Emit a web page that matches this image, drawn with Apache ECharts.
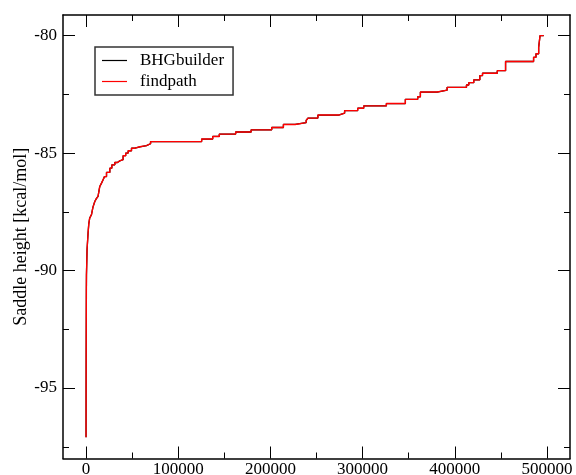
<!DOCTYPE html>
<html>
<head>
<meta charset="utf-8">
<script src="https://cdn.jsdelivr.net/npm/echarts@6/dist/echarts.min.js"></script>
<style>
  html, body { margin: 0; padding: 0; background: #fff; }
  #chart { width: 576px; height: 475px; }
</style>
</head>
<body>
<div id="chart"></div>
<script>
// Sorted saddle heights along the path index; step points (index, height).
const pathIndex = [
  0, 60, 150, 250, 350, 450, 1100, 2200, 3000, 4000, 5900, 7500, 9500, 11000,
  13000, 14900, 16500, 18500, 20000, 22200, 25800, 28000, 31200, 34000, 36600,
  40200, 43000, 45700, 49300, 53000, 58400, 65600, 70000,
  125400, 137400, 144600, 162300, 179100, 201400, 214100, 226800, 238800,
  240700, 251500, 274000, 280500, 294700, 301200, 325800, 346400, 359800,
  362700, 380900, 391700, 412700, 415200, 420600, 427200, 430100, 446100,
  455100, 485500, 488100, 491000, 492500, 496500
];
const bhgHeight = [
  -97.1, -95.5, -93.5, -92.0, -90.8, -90.2, -89.1, -88.4, -88.0, -87.76, -87.62,
  -87.3, -87.06, -86.95, -86.84, -86.42, -86.3, -86.13, -86.0, -85.82, -85.64,
  -85.5, -85.4, -85.33, -85.28, -85.11, -85.0, -84.9, -84.79, -84.73, -84.68,
  -84.6, -84.51,
  -84.4, -84.29, -84.19, -84.1, -84.01, -83.91, -83.78, -83.7, -83.61,
  -83.51, -83.38, -83.3, -83.19, -83.09, -82.99, -82.89, -82.71, -82.6,
  -82.4, -82.32, -82.2, -82.1, -82.0, -81.88, -81.7, -81.6, -81.49,
  -81.1, -80.92, -80.77, -80.5, -80.0, -80.0
];
const findpathHeight = [
  -97.1, -95.5, -93.5, -92.0, -90.8, -90.2, -89.1, -88.4, -88.0, -87.76, -87.62,
  -87.3, -87.06, -86.95, -86.84, -86.42, -86.3, -86.13, -86.0, -85.82, -85.64,
  -85.5, -85.4, -85.33, -85.28, -85.11, -85.0, -84.9, -84.79, -84.73, -84.68,
  -84.6, -84.51,
  -84.4, -84.29, -84.19, -84.1, -84.01, -83.91, -83.78, -83.7, -83.61,
  -83.51, -83.38, -83.3, -83.19, -83.09, -82.99, -82.89, -82.71, -82.6,
  -82.4, -82.32, -82.2, -82.1, -82.0, -81.88, -81.7, -81.6, -81.49,
  -81.1, -80.92, -80.77, -80.5, -80.0, -80.0
];

// Tick positions
const xMajorTicks = [0, 100000, 200000, 300000, 400000, 500000];
const xMinorTicks = [50000, 150000, 250000, 350000, 450000];
const yMajorTicks = [-95, -90, -85, -80];
const yMinorTicks = [-97.5, -92.5, -87.5, -82.5];

const FONT = 'Liberation Serif';
const X_MIN = -25000, X_MAX = 525000;
const Y_MIN = -98, Y_MAX = -79.12;
const plain = v => String(v);

function xAxisDef(pos, ticks, len, withLabels, withLine) {
  return {
    type: 'value', position: pos, min: X_MIN, max: X_MAX,
    axisLine: { show: withLine, onZero: false, lineStyle: { color: '#000', width: 1.5 } },
    axisTick: { show: true, inside: true, length: len, customValues: ticks,
                lineStyle: { color: '#000', width: 1 } },
    axisLabel: { show: withLabels, customValues: ticks, color: '#000', formatter: plain,
                 fontFamily: FONT, fontSize: 17, margin: 3 },
    splitLine: { show: false }
  };
}
function yAxisDef(pos, ticks, len, withLabels, withLine) {
  return {
    type: 'value', position: pos, min: Y_MIN, max: Y_MAX,
    axisLine: { show: withLine, onZero: false, lineStyle: { color: '#000', width: 1.5 } },
    axisTick: { show: true, inside: true, length: len, customValues: ticks,
                lineStyle: { color: '#000', width: 1 } },
    axisLabel: { show: withLabels, customValues: ticks, color: '#000', formatter: plain,
                 fontFamily: FONT, fontSize: 17, margin: 6 },
    splitLine: { show: false }
  };
}

const yMain = yAxisDef('left', yMajorTicks, 12, true, true);
yMain.name = 'Saddle height [kcal/mol]';
yMain.nameLocation = 'middle';
yMain.nameGap = 33;
yMain.nameMoveOverlap = false;
yMain.nameTextStyle = { color: '#000', fontFamily: FONT, fontSize: 18 };

// Legend swatch: a short horizontal stroke
const lineIcon = 'path://M0,0 L25,0 L25,1.2 L0,1.2 Z';

const chart = echarts.init(document.getElementById('chart'), null, { renderer: 'canvas' });
chart.setOption({
  animation: false,
  backgroundColor: '#fff',
  grid: { left: 63, right: 6, top: 15, bottom: 16.5, containLabel: false, outerBoundsMode: 'none' },
  xAxis: [
    xAxisDef('bottom', xMajorTicks, 12, true, true),
    xAxisDef('bottom', xMinorTicks, 6, false, false),
    xAxisDef('top', xMajorTicks, 12, false, true),
    xAxisDef('top', xMinorTicks, 6, false, false)
  ],
  yAxis: [
    yMain,
    yAxisDef('left', yMinorTicks, 6, false, false),
    yAxisDef('right', yMajorTicks, 12, false, true),
    yAxisDef('right', yMinorTicks, 6, false, false)
  ],
  legend: {
    left: 95, top: 47, orient: 'vertical',
    itemWidth: 25, itemHeight: 1.2, itemGap: 4,
    padding: [5, 9, 5, 7],
    borderColor: '#333', borderWidth: 1.5, backgroundColor: '#fff',
    textStyle: { color: '#000', fontFamily: FONT, fontSize: 17, padding: [0, 0, 0, 8] },
    data: [
      { name: 'BHGbuilder', icon: lineIcon, itemStyle: { color: '#000' } },
      { name: 'findpath', icon: lineIcon, itemStyle: { color: '#ff0000' } }
    ]
  },
  series: [
    {
      name: 'BHGbuilder', type: 'line', step: 'end', showSymbol: false, symbol: 'none',
      xAxisIndex: 0, yAxisIndex: 0,
      lineStyle: { color: '#000', width: 1.3 }, itemStyle: { color: '#000' },
      data: pathIndex.map((x, i) => [x, bhgHeight[i]])
    },
    {
      name: 'findpath', type: 'line', step: 'end', showSymbol: false, symbol: 'none',
      xAxisIndex: 0, yAxisIndex: 0,
      lineStyle: { color: '#ff0000', width: 1.4 }, itemStyle: { color: '#ff0000' },
      data: pathIndex.map((x, i) => [x, findpathHeight[i]])
    }
  ]
});
</script>
</body>
</html>
